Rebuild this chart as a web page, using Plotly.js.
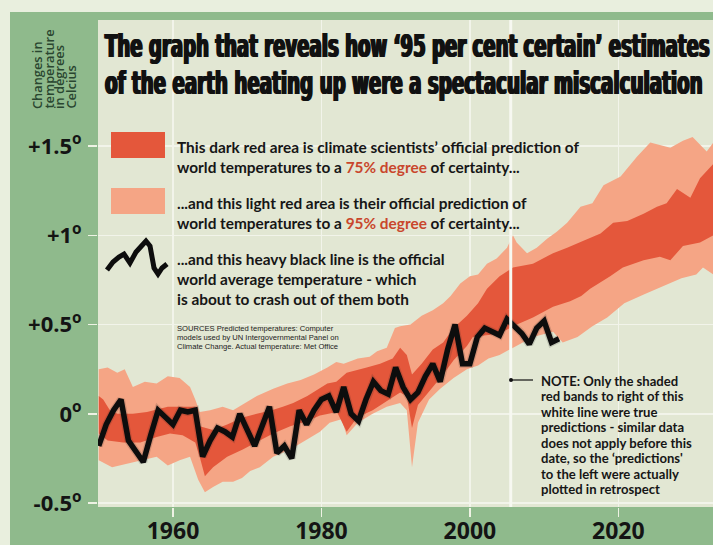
<!DOCTYPE html>
<html>
<head>
<meta charset="utf-8">
<script src="https://cdn.plot.ly/plotly-3.0.1.min.js"></script>
<style>
  html, body { margin: 0; padding: 0; background: #e9efde; width: 713px; height: 545px; overflow: hidden; }
  #chart { position: absolute; left: 10px; top: 12px; width: 703px; height: 533px; }
</style>
</head>
<body>
<div id="chart"></div>
<script>
// ---- Observed world average temperature (Met Office), deg C anomaly ----
const obsYears = [1950,1951,1952,1953,1954,1955,1956,1957,1958,1959,
                  1960,1961,1962,1963,1964,1965,1966,1967,1968,1969,
                  1970,1971,1972,1973,1974,1975,1976,1977,1978,1979,
                  1980,1981,1982,1983,1984,1985,1986,1987,1988,1989,
                  1990,1991,1992,1993,1994,1995,1996,1997,1998,1999,
                  2000,2001,2002,2003,2004,2005,2006,2007,2008,2009,
                  2010,2011,2012];
const observed = [-0.18,-0.06,0.02,0.08,-0.15,-0.21,-0.27,-0.12,0.02,-0.02,
                  -0.06,0.02,0.01,0.02,-0.24,-0.15,-0.08,-0.10,-0.13,0.00,
                  -0.09,-0.18,-0.07,0.04,-0.22,-0.18,-0.25,0.02,-0.06,0.02,
                  0.08,0.10,0.01,0.15,0.00,-0.04,0.08,0.18,0.13,0.11,
                  0.26,0.15,0.08,0.12,0.21,0.28,0.18,0.36,0.50,0.28,
                  0.28,0.43,0.48,0.46,0.44,0.53,0.49,0.45,0.39,0.48,
                  0.52,0.40,0.42];

// ---- 95% band (light red) ----
const upper95Years = [1950,1951.2,1952.5,1953.5,1954.6,1956.2,1957.8,1959.3,1960.9,1962.3,
                      1963.0,1963.6,1965.0,1966.7,1968.1,1970.0,1971.3,1973.5,1975.4,1977.2,
                      1979.0,1980.8,1982.0,1983.0,1984.9,1986.5,1987.5,1988.8,1989.9,1990.6,
                      1992,1993.5,1995,1996.4,1997.4,1998.7,2000,2001.1,2002.3,2003.6,
                      2005,2005.8,2006.3,2007.7,2009,2010.4,2011.7,2013.1,2014.9,2016.5,
                      2018,2020.3,2022.5,2024.3,2026,2027,2028.7,2030,2031.9,2032.8];
const upper95 = [0.25,0.26,0.23,0.25,0.15,0.18,0.17,0.21,0.20,0.15,
                 0.08,0.01,0.02,0.04,0.02,0.07,0.10,0.14,0.17,0.19,
                 0.22,0.26,0.29,0.28,0.31,0.32,0.35,0.37,0.48,0.49,
                 0.50,0.55,0.58,0.62,0.66,0.73,0.77,0.78,0.84,0.87,
                 0.93,1.00,0.96,0.90,0.93,0.98,1.02,1.07,1.16,1.18,
                 1.28,1.33,1.44,1.52,1.50,1.49,1.53,1.55,1.47,1.52];
const lower95Years = [1950,1951.8,1953.8,1955.8,1957.8,1959.3,1960.9,1962.3,1963.4,1964.3,
                      1965.4,1966.7,1968.1,1969.3,1970.4,1971.7,1973.5,1975.8,1978.1,1979.8,
                      1981.1,1982.7,1983.4,1984.9,1986.9,1988.8,1990.6,1991.5,1992.2,1993.0,
                      1994.5,1996,1997.8,1999.6,2001.1,2002.5,2004,2005.8,2008.5,2011.2,
                      2012.5,2014.5,2016.5,2018.5,2020.8,2023.5,2025.8,2028.5,2030.5,2031.4,
                      2032.8];
const lower95 = [-0.26,-0.30,-0.28,-0.26,-0.24,-0.29,-0.26,-0.24,-0.37,-0.44,
                 -0.41,-0.38,-0.38,-0.36,-0.32,-0.30,-0.24,-0.20,-0.14,-0.10,
                 -0.05,-0.03,-0.12,-0.05,0.00,0.04,0.06,0.02,-0.30,-0.05,
                 0.08,0.14,0.20,0.25,0.27,0.31,0.33,0.37,0.43,0.46,
                 0.40,0.43,0.49,0.54,0.62,0.67,0.71,0.76,0.78,0.82,
                 0.78];

// ---- 75% band (dark red) ----
const upper75Years = [1950,1950.6,1951.5,1952.5,1954.6,1956.5,1959.3,1960.9,1963.0,1963.6,
                      1965.4,1967.3,1969.4,1971.3,1973.3,1974.8,1976.2,1978.1,1980.8,1982.0,
                      1983.4,1986.1,1987.9,1989.6,1990.6,1991.5,1992.2,1993.5,1995,1996.4,
                      1997.8,1999.6,2001.1,2002.3,2004,2005.8,2008.5,2011.2,2013.1,2015.3,
                      2017.6,2019.3,2021.2,2023.4,2025.2,2026.5,2027.9,2029.7,2031,2032.8];
const upper75 = [0.10,0.08,0.02,0.00,0.00,0.01,0.04,0.04,0.04,-0.07,
                 -0.09,-0.06,-0.02,0.00,0.02,0.04,0.06,0.10,0.17,0.18,
                 0.23,0.26,0.28,0.31,0.37,0.33,0.22,0.28,0.36,0.40,
                 0.48,0.55,0.62,0.70,0.77,0.82,0.84,0.90,0.93,0.97,
                 1.01,1.07,1.08,1.12,1.16,1.18,1.26,1.21,1.32,1.40];
const lower75Years = [1950,1951.2,1953.3,1955.6,1957.8,1959.6,1961.3,1963.0,1963.6,1964.3,
                      1965.4,1967.3,1969.4,1971.3,1973.5,1975.8,1978.1,1979.8,1982.1,1983.4,
                      1984.8,1986.9,1989.2,1990.6,1991.5,1992.2,1993.0,1995,1996.4,1997.8,
                      1999.6,2000.4,2004,2005.8,2008.5,2011.2,2013.5,2015,2016.2,2018.9,
                      2020.6,2023.4,2025.6,2027,2028.7,2031,2032.8];
const lower75 = [-0.11,-0.15,-0.16,-0.16,-0.13,-0.11,-0.12,-0.16,-0.24,-0.35,
                 -0.30,-0.24,-0.20,-0.16,-0.11,-0.07,-0.04,-0.01,0.01,-0.10,
                 -0.02,0.02,0.08,0.12,0.10,-0.08,0.05,0.15,0.22,0.30,
                 0.38,0.43,0.45,0.49,0.54,0.60,0.63,0.66,0.70,0.77,
                 0.82,0.86,0.88,0.86,0.94,0.96,1.00];

// ---- axis ticks ----
const xTickVals = [1960, 1980, 2000, 2020];
const yTickVals = [-0.5, 0, 0.5, 1, 1.5];
const yTickText = ['-0.5<sup>o</sup>', '0<sup>o</sup>', '+0.5<sup>o</sup>', '+1<sup>o</sup>', '+1.5<sup>o</sup>'];
const predictionStartYear = 2005.5;

// ---- text ----
const titleLines = ['The graph that reveals how \u201895 per cent certain\u2019 estimates',
                    'of the earth heating up were a spectacular miscalculation'];
const legend1 = 'This dark red area is climate scientists\u2019 official prediction of<br>world temperatures to a <span style="color:#c9462c">75% degree</span> of certainty...';
const legend2 = '...and this light red area is their official prediction of<br>world temperatures to a <span style="color:#c9462c">95% degree</span> of certainty...';
const legend3 = '...and this heavy black line is the official<br>world average temperature - which<br>is about to crash out of them both';
const sourcesLines = ['SOURCES Predicted temperatures: Computer',
                      'models used by UN Intergovernmental Panel on',
                      'Climate Change. Actual temperature: Met Office'];
const noteLines = ['NOTE: Only the shaded', 'red bands to right of this', 'white line were true',
                   'predictions - similar data', 'does not apply before this',
                   'date, so the \u2018predictions\'', 'to the left were actually', 'plotted in retrospect'];
const yTitleLines = ['Changes in', 'temperature', 'in degrees', 'Celcius'];

// ---- colours ----
const DARK = '#e4573b';
const LIGHT = '#f5a585';

// page-pixel -> paper coordinate helpers (plot area: x 98..713, y 20..507)
const PX0 = 98, PX1 = 713, PY0 = 20, PY1 = 507;
const px = X => (X - PX0) / (PX1 - PX0);
const py = Y => (PY1 - Y) / (PY1 - PY0);

const traces = [
  { x: lower95Years, y: lower95, type: 'scatter', mode: 'lines', line: { width: 0, color: LIGHT }, hoverinfo: 'skip' },
  { x: upper95Years, y: upper95, type: 'scatter', mode: 'lines', line: { width: 0, color: LIGHT }, fill: 'tonexty', fillcolor: LIGHT, hoverinfo: 'skip' },
  { x: lower75Years, y: lower75, type: 'scatter', mode: 'lines', line: { width: 0, color: DARK }, hoverinfo: 'skip' },
  { x: upper75Years, y: upper75, type: 'scatter', mode: 'lines', line: { width: 0, color: DARK }, fill: 'tonexty', fillcolor: DARK, hoverinfo: 'skip' },
  { x: obsYears, y: observed, type: 'scatter', mode: 'lines', line: { width: 8, color: 'rgba(30,30,30,0.16)', shape: 'linear' }, hoverinfo: 'skip' },
  { x: obsYears, y: observed, type: 'scatter', mode: 'lines', line: { width: 5.5, color: '#0d0d0d', shape: 'linear' }, hoverinfo: 'skip' }
];

// legend squiggle (decorative key glyph), page pixels
const squiggle = [[107,270],[113,262],[119,257],[124,254],[130,263],[136,252],[146,241],[150,246],[154,268],[158,274],[162,268],[167,264]];
const squigglePath = 'M ' + squiggle.map(p => px(p[0]).toFixed(4) + ',' + py(p[1]).toFixed(4)).join(' L ');

const annotations = [];
// title lines (index 0 and 1)
const titleY = [45.5, 82.5];
titleLines.forEach((t, i) => annotations.push({
  xref: 'paper', yref: 'paper', x: px(103), y: py(titleY[i]), xanchor: 'left', yanchor: 'middle', align: 'left',
  showarrow: false, text: t,
  font: { family: 'DejaVu Sans Condensed, DejaVu Sans, sans-serif', size: 31.5, color: '#111', weight: 700,
          shadow: '1.2px 0 0 #111, -1.2px 0 0 #111' }
}));
[[legend1, 136], [legend2, 192], [legend3, 248]].forEach(([t, y]) => annotations.push({
  xref: 'paper', yref: 'paper', x: px(175), y: py(y), xanchor: 'left', yanchor: 'top', align: 'left',
  showarrow: false, text: t,
  font: { family: 'Lato, sans-serif', size: 15.4, color: '#161616', weight: 700 }
}));
sourcesLines.forEach((t, i) => annotations.push({
  xref: 'paper', yref: 'paper', x: px(175), y: py(328 + i * 9), xanchor: 'left', yanchor: 'middle', align: 'left',
  showarrow: false, text: t,
  font: { family: 'Liberation Sans, sans-serif', size: 7.6, color: '#222' }
}));
noteLines.forEach((t, i) => annotations.push({
  xref: 'paper', yref: 'paper', x: px(539), y: py(381 + i * 15.45), xanchor: 'left', yanchor: 'middle', align: 'left',
  showarrow: false, text: t,
  font: { family: 'Lato, sans-serif', size: 13.1, color: '#161616', weight: 700 }
}));
const yTitleX = [37, 48, 59, 70];
yTitleLines.forEach((t, i) => annotations.push({
  xref: 'paper', yref: 'paper', x: px(yTitleX[i]), y: py(111), xanchor: 'center', yanchor: 'bottom',
  textangle: -90, showarrow: false, text: t,
  font: { family: 'Open Sans, sans-serif', size: 12.8, color: '#2a4630', weight: 600 }
}));

const layout = {
  width: 703, height: 533,
  margin: { l: 88, r: 0, t: 8, b: 38, pad: 0 },
  paper_bgcolor: '#8fba8c',
  plot_bgcolor: '#e2e7d3',
  showlegend: false,
  xaxis: {
    range: [1949.9, 2032.75],
    tickvals: xTickVals,
    ticktext: xTickVals.map(String),
    ticks: 'outside', ticklen: 9, tickwidth: 1.5, tickcolor: '#eef2e4',
    ticklabelstandoff: -6,
    showgrid: true, gridcolor: '#f2f4ea', gridwidth: 1.5,
    zeroline: false, showline: false,
    tickfont: { family: 'Open Sans, sans-serif', size: 23, color: '#141414', weight: 700 }
  },
  yaxis: {
    range: [-0.522, 2.206],
    tickvals: yTickVals,
    ticktext: yTickText,
    ticks: 'outside', ticklen: 9, tickwidth: 1.5, tickcolor: '#eef2e4',
    ticklabelstandoff: 2,
    showgrid: true, gridcolor: '#f2f4ea', gridwidth: 1.5,
    zeroline: false, showline: false,
    tickfont: { family: 'Open Sans, sans-serif', size: 22, color: '#141414', weight: 700 }
  },
  shapes: [
    { type: 'line', xref: 'x', yref: 'paper', x0: predictionStartYear, x1: predictionStartYear, y0: 0, y1: 1,
      line: { color: '#f7f8f1', width: 3 }, layer: 'above' },
    { type: 'rect', xref: 'paper', yref: 'paper', x0: px(111), x1: px(165), y0: py(158), y1: py(132),
      fillcolor: DARK, line: { width: 0 }, layer: 'above' },
    { type: 'rect', xref: 'paper', yref: 'paper', x0: px(111), x1: px(165), y0: py(214), y1: py(188),
      fillcolor: LIGHT, line: { width: 0 }, layer: 'above' },
    { type: 'path', xref: 'paper', yref: 'paper', path: squigglePath,
      line: { color: '#0d0d0d', width: 5 }, layer: 'above' },
    { type: 'line', xref: 'paper', yref: 'paper', x0: px(511), x1: px(533), y0: py(380), y1: py(380),
      line: { color: '#111', width: 1.2 }, layer: 'above' },
    { type: 'circle', xref: 'paper', yref: 'paper', x0: px(509), x1: px(513), y0: py(382), y1: py(378),
      fillcolor: '#111', line: { width: 0 }, layer: 'above' }
  ],
  annotations: annotations
};

// condense the heavy headline horizontally to the reference widths
const titleWidths = [605, 598];
Plotly.newPlot('chart', traces, layout, { staticPlot: true, displayModeBar: false }).then(gd => {
  gd.querySelectorAll('.annotation').forEach(a => {
    const idx = +a.getAttribute('data-index');
    if (idx > 1) return;
    const t = a.querySelector('text.annotation-text');
    if (!t) return;
    const bb = t.getBBox();
    if (!bb.width) return;
    const s = titleWidths[idx] / bb.width;
    t.setAttribute('transform', 'translate(' + bb.x + ',0) scale(' + s + ',1) translate(' + (-bb.x) + ',0)');
  });
});
</script>
</body>
</html>
